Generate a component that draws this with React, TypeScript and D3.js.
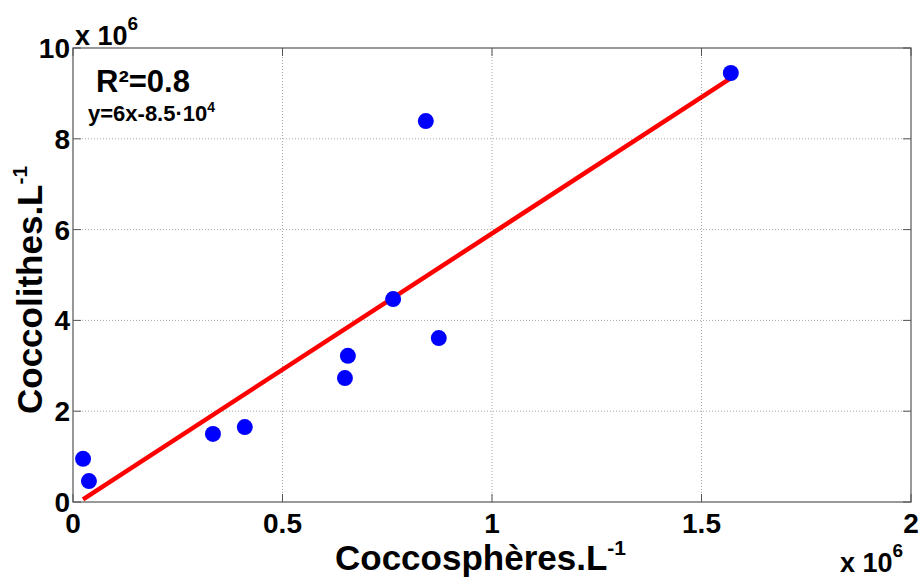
import React from "react";
import * as d3 from "d3";

const xValues = [0.024e6, 0.038e6, 0.334e6, 0.41e6, 0.649e6, 0.656e6, 0.764e6, 0.842e6, 0.873e6, 1.57e6];
const yValues = [0.95e6, 0.46e6, 1.5e6, 1.65e6, 2.73e6, 3.22e6, 4.47e6, 8.39e6, 3.61e6, 9.45e6];
const xTicks = [0, 0.5e6, 1e6, 1.5e6, 2e6];
const yTicks = [0, 2e6, 4e6, 6e6, 8e6, 10e6];
const slope = 6;
const intercept = -8.5e4;

const W = 921;
const H = 578;
const M = { left: 73, right: 911, top: 48, bottom: 502 };
const FONT = "'Liberation Sans', Arial, Helvetica, sans-serif";

export default function App() {
  const x = d3.scaleLinear().domain([0, 2e6]).range([M.left, M.right]);
  const y = d3.scaleLinear().domain([0, 10e6]).range([M.bottom, M.top]);
  const xMin = d3.min(xValues) as number;
  const xMax = d3.max(xValues) as number;
  const fitLine = d3.line<number>().x((d) => x(d)).y((d) => y(slope * d + intercept));
  const fmt = (v: number) => d3.format("~g")(v / 1e6);
  const tickLen = 8;
  return (
    <div style={{ position: "absolute", left: 0, top: 0 }}>
      <svg width={W} height={H} style={{ display: "block", background: "#fff" }} fontFamily={FONT}>
        {/* grid */}
        {xTicks.slice(1, -1).map((t) => (
          <line key={"gx" + t} x1={x(t)} x2={x(t)} y1={M.top} y2={M.bottom} stroke="#a8a8a8" strokeWidth={1} strokeDasharray="1,2" />
        ))}
        {yTicks.slice(1, -1).map((t) => (
          <line key={"gy" + t} x1={M.left} x2={M.right} y1={y(t)} y2={y(t)} stroke="#a8a8a8" strokeWidth={1} strokeDasharray="1,2" />
        ))}
        {/* box */}
        <rect x={M.left} y={M.top} width={M.right - M.left} height={M.bottom - M.top} fill="none" stroke="#555" strokeWidth={1.2} />
        {/* ticks */}
        {xTicks.map((t) => (
          <g key={"tx" + t}>
            <line x1={x(t)} x2={x(t)} y1={M.bottom} y2={M.bottom - tickLen} stroke="#555" strokeWidth={1} />
            <line x1={x(t)} x2={x(t)} y1={M.top} y2={M.top + tickLen} stroke="#555" strokeWidth={1} />
            <text x={x(t)} y={533} textAnchor="middle" fontSize={28} fontWeight="bold" fill="#000">{fmt(t)}</text>
          </g>
        ))}
        {yTicks.map((t) => (
          <g key={"ty" + t}>
            <line x1={M.left} x2={M.left + tickLen} y1={y(t)} y2={y(t)} stroke="#555" strokeWidth={1} />
            <line x1={M.right} x2={M.right - tickLen} y1={y(t)} y2={y(t)} stroke="#555" strokeWidth={1} />
            <text x={70} y={y(t) + 10} textAnchor="end" fontSize={28} fontWeight="bold" fill="#000">{fmt(t)}</text>
          </g>
        ))}
        {/* exponent labels */}
        <text x={75} y={45} fontSize={27} fontWeight="bold" fill="#000">
          x 10<tspan fontSize={19} dy={-15}>6</tspan>
        </text>
        <text x={840} y={572} fontSize={27} fontWeight="bold" fill="#000">
          x 10<tspan fontSize={19} dy={-15}>6</tspan>
        </text>
        {/* fit line */}
        <path d={fitLine([xMin, xMax]) || ""} fill="none" stroke="#ff0000" strokeWidth={4.5} />
        {/* points */}
        {xValues.map((v, i) => (
          <circle key={"p" + i} cx={x(v)} cy={y(yValues[i])} r={8} fill="#0000ff" />
        ))}
        {/* annotation */}
        <text x={96} y={92} fontSize={31} fontWeight="bold" fill="#000">R²=0.8</text>
        <text x={88} y={121} fontSize={22} fontWeight="bold" fill="#000">
          y=6x-8.5·10<tspan fontSize={14} dy={-9}>4</tspan>
        </text>
        {/* axis labels */}
        <text x={335} y={570} fontSize={35} fontWeight="bold" fill="#000">
          Coccosphères.L<tspan fontSize={21} dy={-15}>-1</tspan>
        </text>
        <text transform="translate(42,414) rotate(-90)" fontSize={35} fontWeight="bold" fill="#000">
          Coccolithes.L<tspan fontSize={21} dy={-15}>-1</tspan>
        </text>
      </svg>
    </div>
  );
}
